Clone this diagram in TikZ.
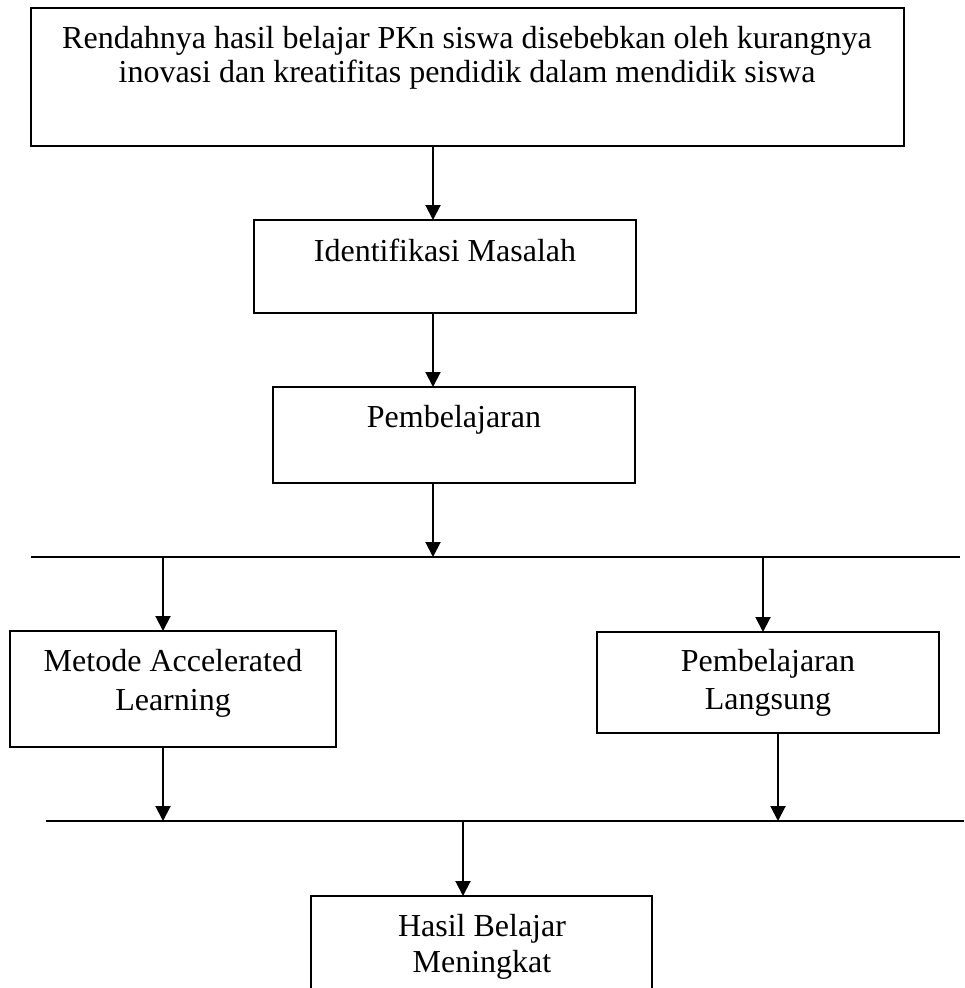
\documentclass[tikz,border=0pt]{standalone}
\usepackage{fontspec}
\setmainfont{Liberation Serif}
\usetikzlibrary{arrows.meta}
\begin{document}
\begin{tikzpicture}[x=1pt,y=-1pt,
  box/.style={draw, line width=2pt, inner sep=0pt, outer sep=0pt, anchor=north west},
  arr/.style={line width=2pt, -{Triangle[width=15pt,length=15pt]}},
  hline/.style={line width=2pt},
  txt/.style={inner sep=0pt, anchor=base, font=\fontsize{32}{38}\selectfont},
  txts/.style={inner sep=0pt, anchor=base, font=\fontsize{32}{38}\selectfont}]
\fill[white] (0,0) rectangle (964,988);
\clip (0,0) rectangle (964,988);
% boxes
\node[box, minimum width=873pt, minimum height=138pt] (b1) at (31,8) {};
\node[box, minimum width=382pt, minimum height=93pt] (b2) at (254,220) {};
\node[box, minimum width=362pt, minimum height=96pt] (b3) at (273,387) {};
\node[box, minimum width=326pt, minimum height=116pt] (b4) at (10,631) {};
\node[box, minimum width=342pt, minimum height=101pt] (b5) at (597,632) {};
\node[box, minimum width=341pt, minimum height=130pt] (b6) at (311,896) {};
% texts
\node[txts] (t1a) at (467,48) {Rendahnya hasil belajar PKn siswa disebebkan oleh kurangnya};
\node[txts] (t1b) at (467,82) {inovasi dan kreatifitas pendidik dalam mendidik siswa};
\node[txt] (t2) at (445,261) {Identifikasi Masalah};
\node[txt] (t3) at (454,427) {Pembelajaran};
\node[txt] (t4a) at (173,671) {Metode Accelerated};
\node[txt] (t4b) at (173,710) {Learning};
\node[txt] (t5a) at (768,671) {Pembelajaran};
\node[txt] (t5b) at (768,709) {Langsung};
\node[txt] (t6a) at (482,936) {Hasil Belajar};
\node[txt] (t6b) at (482,972) {Meningkat};
% helper coordinates
\coordinate (cx) at (433,0);
\coordinate (lx) at (163,0);
\coordinate (rx) at (763,0);
\coordinate (rx2) at (778,0);
\coordinate (mx) at (463,0);
\coordinate (h1l) at (31,557);
\coordinate (h1r) at (960,557);
\coordinate (h2l) at (46,821);
\coordinate (h2r) at (964,821);
% lines
\draw[hline] (h1l) -- (h1r);
\draw[hline] (h2l) -- (h2r);
% arrows
\draw[arr] (b1.south -| cx) -- (b2.north -| cx);
\draw[arr] (b2.south -| cx) -- (b3.north -| cx);
\draw[arr] (b3.south -| cx) -- (h1l -| cx);
\draw[arr] (h1l -| lx) -- (b4.north -| lx);
\draw[arr] (h1l -| rx) -- (b5.north -| rx);
\draw[arr] (b4.south -| lx) -- (h2l -| lx);
\draw[arr] (b5.south -| rx2) -- (h2l -| rx2);
\draw[arr] (h2l -| mx) -- (b6.north -| mx);
\end{tikzpicture}
\end{document}
